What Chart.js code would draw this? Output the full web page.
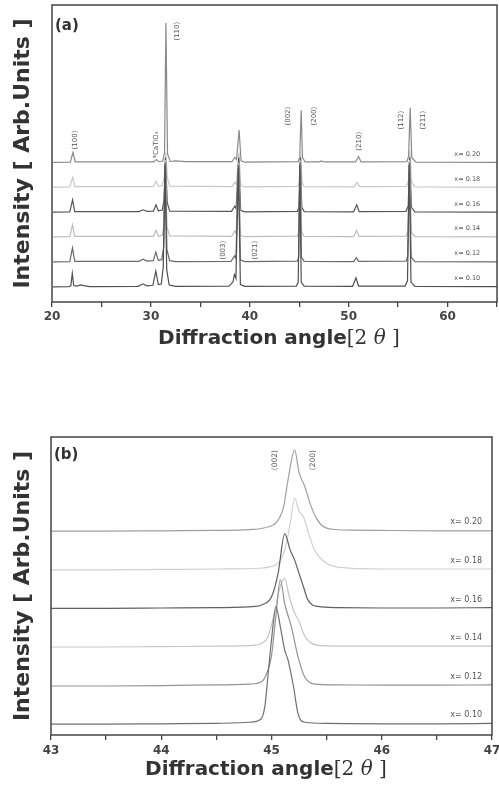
<!DOCTYPE html>
<html>
<head>
<meta charset="utf-8">
<script src="https://cdn.jsdelivr.net/npm/chart.js@4.4.1/dist/chart.umd.min.js"></script>
<style>
  html, body { margin: 0; padding: 0; background: #fff; }
  .panel { position: absolute; left: 0; width: 499px; }
  #wrapA { top: 0; height: 365px; }
  #wrapB { top: 400px; height: 386px; }
</style>
</head>
<body>
<div class="panel" id="wrapA"><canvas id="chartA" width="499" height="365"></canvas></div>
<div class="panel" id="wrapB"><canvas id="chartB" width="499" height="386"></canvas></div>
<script>
// compositions, bottom trace first
const compositions = ['x= 0.10', 'x= 0.12', 'x= 0.14', 'x= 0.16', 'x= 0.18', 'x= 0.20'];
const baselinesA = [0.6, 1.6, 2.6, 3.6, 4.6, 5.6];
const baselinesB = [0.3, 1.3, 2.3, 3.3, 4.3, 5.3];
const tickLabelsA = [20, 30, 40, 50, 60];
const tickLabelsB = [43, 44, 45, 46, 47];

// panel (a): full scans, [2theta, stacked intensity]
const scanA010 = [[20.1,0.61],[21.7,0.62],[21.9,0.64],[22.05,1.15],[22.2,0.66],[22.5,0.64],[22.9,0.69],[23.2,0.66],[23.8,0.62],[28.7,0.63],[29.2,0.73],[29.6,0.65],[30.2,0.67],[30.5,1.24],[30.75,0.7],[31.05,0.72],[31.25,1.4],[31.42,5.5],[31.6,1.3],[31.85,0.68],[32.5,0.63],[37.9,0.64],[38.3,0.8],[38.45,1.1],[38.6,0.95],[38.85,5.4],[39.05,0.7],[39.5,0.63],[44.7,0.64],[44.9,0.8],[45.05,5.5],[45.2,0.8],[45.5,0.64],[50.4,0.63],[50.74,0.97],[51.0,0.64],[55.7,0.64],[55.95,0.85],[56.12,5.5],[56.3,0.8],[56.7,0.63],[65,0.62]];
const scanA012 = [[20.1,1.61],[21.8,1.62],[22.07,2.17],[22.3,1.63],[28.8,1.63],[29.2,1.72],[29.6,1.64],[30.25,1.66],[30.5,2.0],[30.75,1.67],[31.1,1.7],[31.3,2.2],[31.45,5.6],[31.62,2.1],[31.9,1.66],[32.5,1.62],[38.1,1.63],[38.45,1.85],[38.6,1.75],[38.85,5.5],[39.05,1.68],[39.5,1.62],[44.8,1.64],[44.95,1.8],[45.08,5.6],[45.22,1.8],[45.5,1.63],[50.5,1.62],[50.78,1.78],[51.0,1.63],[55.8,1.64],[55.98,1.85],[56.14,5.6],[56.32,1.8],[56.7,1.62],[65,1.61]];
const scanA014 = [[20.1,2.61],[21.8,2.62],[22.08,3.1],[22.3,2.63],[30.25,2.63],[30.52,2.88],[30.75,2.64],[31.15,2.68],[31.32,3.1],[31.47,5.7],[31.63,3.0],[31.9,2.65],[38.15,2.63],[38.48,2.85],[38.62,2.75],[38.87,5.6],[39.07,2.67],[39.5,2.62],[44.8,2.64],[44.97,2.8],[45.1,5.7],[45.24,2.8],[45.5,2.63],[50.5,2.62],[50.8,2.87],[51.05,2.63],[55.8,2.64],[56.0,2.85],[56.16,5.7],[56.34,2.8],[56.7,2.62],[65,2.61]];
const scanA016 = [[20.1,3.61],[21.8,3.62],[22.08,4.1],[22.3,3.63],[28.8,3.63],[29.2,3.7],[29.6,3.64],[30.25,3.65],[30.52,3.9],[30.75,3.66],[31.15,3.69],[31.33,4.1],[31.48,5.8],[31.65,4.0],[31.9,3.65],[38.15,3.64],[38.48,3.85],[38.62,3.75],[38.88,5.8],[39.08,3.68],[39.5,3.62],[44.8,3.64],[44.98,3.8],[45.12,5.8],[45.26,3.8],[45.5,3.63],[50.5,3.62],[50.82,3.9],[51.05,3.63],[55.8,3.64],[56.02,3.85],[56.17,5.8],[56.35,3.8],[56.7,3.62],[65,3.61]];
const scanA018 = [[20.1,4.61],[21.8,4.62],[22.1,5.0],[22.3,4.63],[30.25,4.63],[30.52,4.85],[30.75,4.64],[31.15,4.68],[31.35,5.0],[31.5,6.0],[31.66,5.0],[31.9,4.65],[38.2,4.63],[38.5,4.8],[38.64,4.72],[38.9,6.0],[39.1,4.67],[39.5,4.62],[44.85,4.64],[45.0,4.8],[45.15,6.1],[45.28,4.8],[45.5,4.63],[50.55,4.62],[50.85,4.8],[51.1,4.63],[55.85,4.64],[56.04,4.85],[56.19,6.1],[56.36,4.8],[56.7,4.62],[65,4.61]];
const scanA020 = [[20.1,5.6],[21.85,5.61],[22.12,6.0],[22.35,5.62],[30.3,5.62],[30.55,5.72],[30.8,5.63],[31.2,5.66],[31.38,6.0],[31.52,11.2],[31.68,5.95],[31.95,5.64],[32.5,5.66],[33.5,5.63],[38.2,5.63],[38.5,5.8],[38.66,5.72],[38.92,6.9],[39.12,5.67],[39.5,5.61],[44.9,5.63],[45.05,5.8],[45.2,7.7],[45.33,5.8],[45.6,5.62],[47.0,5.62],[47.25,5.66],[47.5,5.62],[50.7,5.62],[51.0,5.84],[51.25,5.62],[55.9,5.63],[56.06,5.85],[56.22,7.8],[56.38,5.8],[56.8,5.61],[65,5.6]];

// panel (b): (002)/(200) region
const scanB010 = [[43,0.28],[43.5,0.28],[44,0.29],[44.5,0.3],[44.8,0.33],[44.9,0.4],[44.94,0.75],[44.97,1.6],[45.0,2.46],[45.04,3.32],[45.08,2.81],[45.12,2.2],[45.15,1.94],[45.2,1.25],[45.24,0.56],[45.3,0.33],[45.5,0.3],[46,0.29],[46.5,0.29],[47,0.3]];
const scanB012 = [[43,1.27],[43.5,1.27],[44,1.28],[44.5,1.3],[44.8,1.32],[44.91,1.38],[44.96,1.62],[45.0,2.05],[45.04,3.1],[45.08,4.02],[45.12,3.4],[45.18,2.81],[45.24,2.03],[45.3,1.51],[45.39,1.32],[45.6,1.3],[46,1.29],[46.5,1.29],[47,1.3]];
const scanB014 = [[43,2.28],[43.5,2.28],[44,2.29],[44.5,2.3],[44.85,2.33],[44.91,2.37],[44.97,2.56],[45.03,3.2],[45.08,3.85],[45.12,4.06],[45.16,3.6],[45.21,3.16],[45.25,2.95],[45.29,2.63],[45.36,2.38],[45.5,2.31],[46,2.3],[46.5,2.3],[47,2.3]];
const scanB016 = [[43,3.28],[43.5,3.28],[44,3.29],[44.5,3.3],[44.85,3.33],[44.91,3.37],[45.0,3.58],[45.06,4.19],[45.12,5.21],[45.17,4.79],[45.21,4.53],[45.24,4.27],[45.29,3.84],[45.33,3.5],[45.42,3.33],[45.6,3.3],[46,3.29],[46.5,3.29],[47,3.3]];
const scanB018 = [[43,4.28],[43.5,4.28],[44,4.29],[44.5,4.3],[44.9,4.32],[44.97,4.35],[45.06,4.45],[45.12,4.8],[45.17,5.49],[45.21,6.14],[45.25,5.8],[45.29,5.65],[45.34,5.2],[45.39,4.79],[45.48,4.49],[45.6,4.35],[46,4.3],[46.5,4.3],[47,4.3]];
const scanB020 = [[43,5.28],[43.5,5.28],[44,5.29],[44.5,5.3],[44.8,5.32],[44.94,5.37],[45.05,5.53],[45.11,5.91],[45.15,6.61],[45.21,7.38],[45.25,6.8],[45.3,6.45],[45.35,6.0],[45.4,5.65],[45.46,5.42],[45.55,5.33],[45.7,5.31],[46,5.3],[46.5,5.29],[47,5.29]];

const peakTextA = ['(100)', '*CaTiO₃', '(110)', '(003)', '(021)', '(002)', '(200)', '(210)', '(112)', '(211)'];
const peakTextB = ['(002)', '(200)'];

const colorsA = ['#505050', '#6a6a6a', '#bdbdbd', '#555555', '#c8c8c8', '#8a8a8a'];
const colorsB = ['#707070', '#949494', '#c6c6c6', '#606060', '#d0d0d0', '#a0a0a0'];

function panelPlugin(spec) {
    return {
        id: 'panelDecor',
        afterDatasetsDraw(chart) {
            const { ctx, chartArea: a, scales: { x, y } } = chart;
            ctx.save();
            ctx.strokeStyle = '#444';
            ctx.lineWidth = 1.5;
            ctx.strokeRect(a.left, a.top, a.right - a.left, a.bottom - a.top);

            ctx.fillStyle = '#333';
            ctx.font = 'bold 15px "DejaVu Sans"';
            ctx.textAlign = 'left';
            ctx.textBaseline = 'middle';
            ctx.fillText(spec.letter, a.left + 3, a.top + spec.letterDy);

            ctx.font = spec.peakFont;
            ctx.fillStyle = '#555';
            ctx.textAlign = 'center';
            spec.peakText.forEach((t, i) => {
                const p = spec.peakPos[i];
                ctx.save();
                ctx.translate(x.getPixelForValue(p[0]), y.getPixelForValue(p[1]));
                ctx.rotate(-Math.PI / 2);
                ctx.fillText(t, 0, 0);
                ctx.restore();
            });

            ctx.font = spec.compFont;
            ctx.textAlign = 'right';
            compositions.forEach((c, i) => {
                ctx.fillText(c, x.getPixelForValue(spec.compX), y.getPixelForValue(spec.baselines[i] + spec.compLift));
            });
            ctx.restore();
        },
        afterDraw(chart) {
            // x title: bold sans + serif "[2θ]"
            const { ctx } = chart;
            const parts = [
                ['Diffraction angle', 'bold 20px "DejaVu Sans"'],
                ['[2 ', '20px "DejaVu Serif"'],
                ['θ', 'italic 20px "DejaVu Serif"'],
                [' ]', '20px "DejaVu Serif"']
            ];
            ctx.save();
            let total = 0;
            parts.forEach(([t, f]) => { ctx.font = f; total += ctx.measureText(t).width; });
            let cx = spec.titleX - total / 2;
            ctx.fillStyle = '#333';
            ctx.textAlign = 'left';
            ctx.textBaseline = 'middle';
            parts.forEach(([t, f]) => {
                ctx.font = f;
                ctx.fillText(t, cx, spec.titleY);
                cx += ctx.measureText(t).width;
            });
            ctx.restore();
        }
    };
}

function makePanel(id, opt) {
    return new Chart(document.getElementById(id), {
        type: 'line',
        data: {
            datasets: opt.scans.map((s, i) => ({
                label: compositions[i],
                data: s,
                borderColor: opt.colors[i],
                borderWidth: 1.2,
                pointRadius: 0,
                fill: false,
                tension: opt.smooth ? 0.4 : 0,
                cubicInterpolationMode: opt.smooth ? 'monotone' : 'default'
            }))
        },
        options: {
            responsive: false,
            animation: false,
            events: [],
            layout: { padding: opt.padding },
            plugins: { legend: { display: false }, tooltip: { enabled: false } },
            scales: {
                x: {
                    type: 'linear',
                    min: opt.xMin,
                    max: opt.xMax,
                    ticks: {
                        stepSize: opt.step,
                        autoSkip: false,
                        maxRotation: 0,
                        padding: opt.tickPad,
                        color: '#444',
                        font: { family: 'DejaVu Sans', size: 12, weight: 'bold' },
                        callback: (v) => opt.tickLabels.includes(v) ? String(v) : ''
                    },
                    grid: { drawOnChartArea: false, drawTicks: true, tickLength: 5, color: '#444', lineWidth: 1.3 },
                    border: { display: false },
                    afterFit(s) { s.height = opt.xHeight; s.paddingRight = 0; s.paddingLeft = 0; }
                },
                y: {
                    min: 0,
                    max: opt.yMax,
                    ticks: { display: false },
                    grid: { display: false },
                    border: { display: false },
                    title: {
                        display: true,
                        text: 'Intensity [ Arb.Units ]',
                        color: '#333',
                        font: { family: 'DejaVu Sans', size: 22, weight: 'bold' },
                        padding: { top: 10, bottom: 0 }
                    },
                    afterFit(s) { s.width = opt.yWidth; }
                }
            }
        },
        plugins: [panelPlugin(opt.decor)]
    });
}

makePanel('chartA', {
    scans: [scanA010, scanA012, scanA014, scanA016, scanA018, scanA020],
    colors: colorsA,
    smooth: false,
    xMin: 20, xMax: 65, step: 5, tickLabels: tickLabelsA, tickPad: 3,
    yMax: 11.92,
    xHeight: 63, yWidth: 52,
    padding: { top: 5, right: 2, left: 0, bottom: 0 },
    decor: {
        letter: '(a)', letterDy: 21,
        peakText: peakTextA,
        peakPos: [[22.33, 6.5], [30.54, 6.3], [32.66, 10.87], [37.33, 2.08], [40.57, 2.08],
                  [43.91, 7.46], [46.55, 7.46], [51.1, 6.45], [55.36, 7.3], [57.49, 7.3]],
        peakFont: '7px "DejaVu Sans"',
        compFont: '6.5px "DejaVu Sans"',
        compX: 63.3, compLift: 0.34,
        baselines: baselinesA,
        titleX: 279, titleY: 339
    }
});

makePanel('chartB', {
    scans: [scanB010, scanB012, scanB014, scanB016, scanB018, scanB020],
    colors: colorsB,
    smooth: true,
    xMin: 43, xMax: 47, step: 0.5, tickLabels: tickLabelsB, tickPad: 4,
    yMax: 7.72,
    xHeight: 51, yWidth: 51,
    padding: { top: 37, right: 7, left: 0, bottom: 0 },
    decor: {
        letter: '(b)', letterDy: 18,
        peakText: peakTextB,
        peakPos: [[45.03, 7.12], [45.38, 7.12]],
        peakFont: '7.5px "DejaVu Sans"',
        compFont: '8px "DejaVu Sans"',
        compX: 46.91, compLift: 0.21,
        baselines: baselinesB,
        titleX: 266, titleY: 370
    }
});
</script>
</body>
</html>
